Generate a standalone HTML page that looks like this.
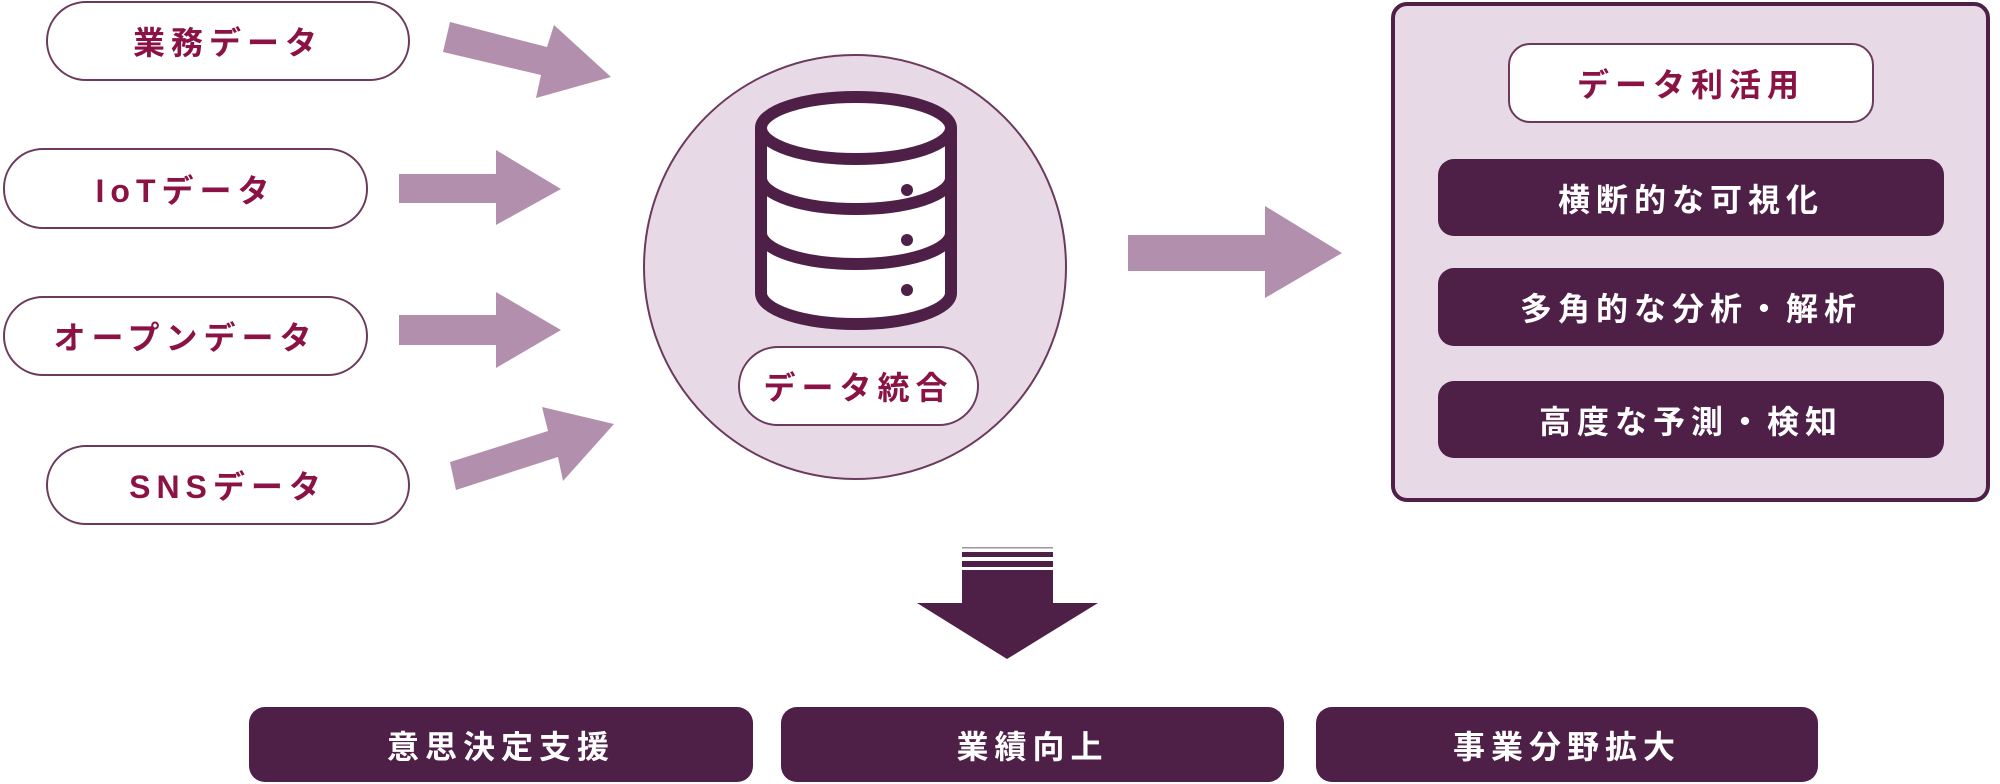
<!DOCTYPE html>
<html><head><meta charset="utf-8"><style>
html,body{margin:0;padding:0;background:#fff}
body{width:2000px;height:784px;position:relative;overflow:hidden;font-family:"Liberation Sans","Noto Sans CJK JP",sans-serif;font-weight:bold}
.pill{position:absolute;box-sizing:border-box;background:#fff;border:2px solid #6b3a5c;border-radius:40px;display:flex;align-items:center;justify-content:center;color:#8b1245;font-size:32px;letter-spacing:6px}
.dk{position:absolute;box-sizing:border-box;background:#4e1f47;border-radius:16px;display:flex;align-items:center;justify-content:center;color:#fff;font-size:32px;letter-spacing:6px}
svg{position:absolute;left:0;top:0}
</style></head><body>
<svg width="2000" height="784">
<ellipse cx="855" cy="267" rx="211" ry="212" fill="#e8d9e6" stroke="#6b3a5c" stroke-width="2"/>
<rect x="1393" y="4" width="595" height="496" rx="14" fill="#e8d9e6" stroke="#4e1f47" stroke-width="4"/>
<g fill="#b38fae">
<polygon points="450,22 547,47 554,25 611,77 536,98 541,75 443,52"/>
<polygon points="399,174 496,174 496,150 561,189 496,225 496,203 399,203"/>
<polygon points="399,315 496,315 496,292 561,330 496,368 496,345 399,345"/>
<polygon points="450,462 548,431 542,407 614,424 563,481 558,457 456,490"/>
<polygon points="1128,235 1265,235 1265,206 1342,253 1265,298 1265,271 1128,271"/>
</g>
<g fill="#4e1f47">
<rect x="962" y="547" width="91" height="1.5" opacity="0.5"/>
<rect x="962" y="552" width="91" height="5"/>
<rect x="962" y="561" width="91" height="6"/>
<polygon points="962,570 1053,570 1053,603 1098,603 1007,659 917,603 962,603"/>
</g>
<g fill="none" stroke="#4e1f47" stroke-width="12">
<path d="M761,128 V293 A95,31 0 0 0 951,293 V128" fill="#fff"/>
<ellipse cx="856" cy="128" rx="95" ry="31" fill="#fff"/>
<path d="M761,178 A95,31 0 0 0 951,178"/>
<path d="M761,233 A95,31 0 0 0 951,233"/>
</g>
<g fill="#4e1f47"><circle cx="907" cy="190" r="6"/><circle cx="907" cy="240" r="6"/><circle cx="907" cy="290" r="6"/></g>
</svg>
<div class="pill" style="left:46px;top:1px;width:364px;height:80px">業務データ</div>
<div class="pill" style="left:3px;top:148px;width:365px;height:81px">IoTデータ</div>
<div class="pill" style="left:3px;top:296px;width:365px;height:80px">オープンデータ</div>
<div class="pill" style="left:46px;top:445px;width:364px;height:80px">SNSデータ</div>
<div class="pill" style="left:738px;top:346px;width:241px;height:80px">データ統合</div>
<div class="pill" style="left:1508px;top:43px;width:366px;height:80px;border-radius:22px">データ利活用</div>
<div class="dk" style="left:1438px;top:159px;width:506px;height:77px">横断的な可視化</div>
<div class="dk" style="left:1438px;top:268px;width:506px;height:78px">多角的な分析・解析</div>
<div class="dk" style="left:1438px;top:381px;width:506px;height:77px">高度な予測・検知</div>
<div class="dk" style="left:249px;top:707px;width:504px;height:75px">意思決定支援</div>
<div class="dk" style="left:781px;top:707px;width:503px;height:75px">業績向上</div>
<div class="dk" style="left:1316px;top:707px;width:502px;height:75px">事業分野拡大</div>
</body></html>
